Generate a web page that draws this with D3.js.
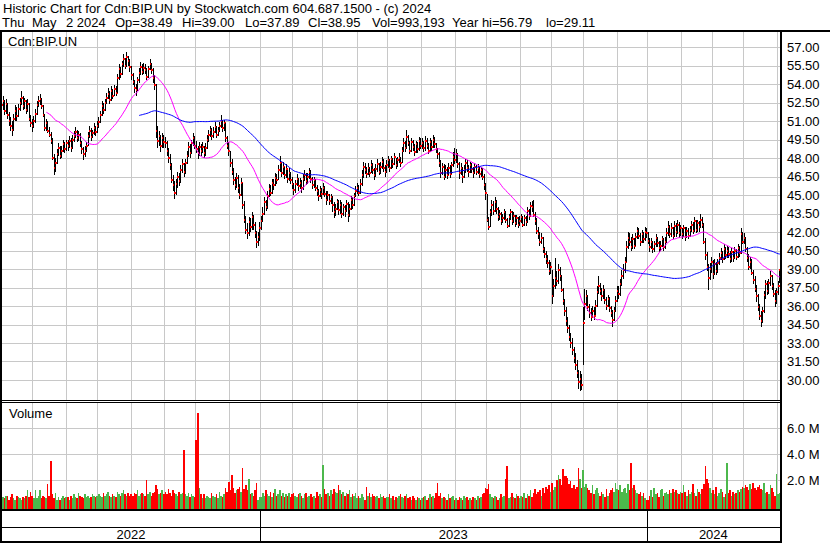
<!DOCTYPE html>
<html>
<head>
<meta charset="utf-8">
<script src="https://cdn.jsdelivr.net/npm/d3@7/dist/d3.min.js"></script>
<style>
  body { margin: 0; background: #fff; }
  text { font-family: Arial, "Liberation Sans", sans-serif; font-size: 13px; fill: #000; }
</style>
</head>
<body>
<script>
const width = 830, height = 543;

// daily closes, May 2 2022 .. May 2 2024 (one row per month)
const closes = [
  52.3, 52.6, 51.8, 52.4, 51.5, 51.0, 50.6, 50.3, 51.2, 51.8, 51.4, 52.0, 52.5, 52.9, 52.2, 52.6, 51.9, 52.4, 51.2, 50.8, 50.6,
  51.0, 51.6, 52.3, 52.6, 52.8, 52.2, 51.5, 50.4, 50.8, 50.2, 49.9, 49.4, 48.0, 47.2, 47.6, 48.3, 48.8, 48.2, 48.6, 49.1, 48.7, 49.2,
  49.0, 49.4, 48.8, 49.5, 49.8, 50.1, 49.6, 49.9, 49.2, 48.7, 48.3, 48.6, 49.0, 49.8, 50.2, 49.7, 50.0, 50.4, 50.1, 50.6,
  50.9, 51.5, 52.2, 51.9, 52.5, 52.9, 53.2, 52.7, 53.4, 53.0, 53.6, 53.3, 54.5, 55.2, 54.8, 55.6, 56.0, 55.5, 56.2, 55.9, 55.4, 54.7,
  54.2, 53.7, 53.5, 54.3, 54.9, 55.4, 55.0, 55.3, 55.1, 54.6, 55.2, 55.6, 55.1, 54.5, 53.9, 50.2, 49.4, 49.8, 49.0, 49.6, 49.3,
  49.2, 48.6, 48.0, 47.4, 46.2, 45.8, 45.2, 45.9, 46.5, 46.1, 47.0, 47.5, 46.9, 47.6, 48.2, 48.9, 48.4, 49.2, 49.6, 49.0,
  48.7, 48.4, 48.9, 48.6, 48.9, 48.4, 48.8, 49.5, 49.9, 50.3, 49.8, 50.1, 50.5, 49.9, 50.2, 50.6, 51.0, 50.4, 50.8, 49.6, 49.0, 48.6,
  47.6, 46.9, 46.2, 45.8, 46.4, 45.6, 45.0, 46.0, 44.2, 43.0, 42.2, 41.9, 42.8, 42.4, 43.2, 42.6, 41.9, 41.2, 41.6, 42.3,
  42.9, 43.5, 44.4, 44.0, 44.9, 45.5, 45.2, 46.0, 45.8, 46.4, 46.2, 47.0, 47.6, 46.8, 47.3, 46.6, 47.1, 46.3, 46.8, 46.2, 45.9,
  45.4, 45.9, 46.3, 45.7, 46.0, 45.6, 46.3, 46.6, 46.1, 46.5, 46.9, 46.3, 45.8, 46.2, 45.6, 45.3, 44.9, 45.4, 45.1,
  45.6, 45.1, 44.6, 45.0, 44.5, 44.8, 44.2, 43.6, 43.9, 44.4, 43.8, 44.2, 43.5, 44.0, 43.7, 44.3, 43.4, 43.9, 44.6, 44.2, 44.9, 45.3, 45.6,
  45.2, 45.9, 46.6, 47.3, 47.0, 46.7, 47.2, 46.8, 47.4, 47.0, 46.6, 47.1, 47.5, 46.9, 47.3, 47.7, 47.2, 46.9, 47.4,
  47.8, 47.2, 47.9, 47.5, 48.1, 47.4, 47.8, 48.0, 47.6, 48.6, 49.2, 48.8, 49.7, 49.2, 48.6, 49.3, 48.9, 48.5, 49.1, 48.7, 49.4, 49.0,
  49.2, 48.8, 49.4, 49.0, 48.6, 49.3, 48.9, 49.5, 49.1, 48.7, 48.3, 47.6, 46.8, 47.3, 46.5, 47.0, 46.6, 47.2, 46.7, 47.4, 48.1, 47.8,
  48.3, 47.5, 46.8, 47.2, 46.5, 47.0, 47.6, 47.2, 46.9, 47.4, 47.1, 46.8, 47.3, 46.9, 47.2, 46.7, 47.0, 46.5, 45.8, 45.2,
  43.0, 42.4, 43.6, 44.2, 43.7, 44.4, 43.9, 43.2, 43.5, 42.9, 43.1, 43.6, 43.0, 42.5, 43.2, 43.6, 42.9, 43.3, 42.7, 43.1, 42.6, 42.9,
  43.2, 42.6, 43.1, 42.8, 43.7, 43.3, 44.1, 44.0, 43.4, 42.9, 42.1, 41.8, 41.2, 41.5, 40.6, 40.2, 39.8, 39.5, 38.8, 39.2,
  36.8, 37.6, 38.3, 38.0, 38.9, 38.4, 37.3, 36.4, 35.6, 34.8, 34.2, 33.5, 33.0, 32.4, 31.8, 31.2, 30.6, 29.8, 30.1, 29.6, 34.6,
  36.2, 36.8, 35.9, 35.4, 35.1, 35.6, 35.2, 36.0, 37.1, 37.6, 37.2, 36.8, 37.3, 36.5, 36.0, 36.6, 35.8, 35.4, 34.9, 35.6, 36.4, 37.2,
  37.0, 37.8, 38.4, 38.9, 39.6, 40.8, 41.5, 41.2, 40.8, 41.4, 40.9, 41.6, 42.1, 41.7, 41.2, 41.8, 41.4, 42.0, 41.9,
  41.3, 40.8, 41.2, 40.6, 41.0, 41.5, 41.1, 40.7, 40.9, 41.4, 40.8, 41.2, 41.9, 42.4, 41.8, 42.3, 41.7, 42.5, 42.0, 42.6, 41.9, 42.3,
  41.8, 42.3, 41.6, 42.1, 41.7, 42.2, 42.6, 42.1, 42.9, 42.2, 42.7, 42.4, 43.0, 42.6, 41.2, 40.1, 39.2, 38.3, 39.0, 39.6,
  38.6, 39.4, 38.8, 39.5, 39.9, 40.3, 39.8, 40.6, 40.1, 40.5, 40.2, 39.8, 40.4, 39.9, 40.5, 40.0, 40.7, 40.3, 41.8, 41.2,
  41.5, 40.6, 39.9, 39.2, 39.6, 38.7, 38.1, 37.4, 36.8, 35.9, 35.2, 34.8, 35.6, 36.9, 37.8, 37.2, 37.9, 38.4, 37.6, 37.0, 36.4, 37.1,
  37.6, 38.95
];

const highs = [
  52.9, 53.0, 52.7, 52.8, 52.5, 51.7, 51.3, 51.0, 51.6, 52.3, 52.1, 52.4, 52.9, 53.4, 53.0, 52.9, 52.7, 52.8, 52.5, 51.5, 51.2,
  51.4, 52.0, 52.6, 53.0, 53.2, 52.9, 52.3, 51.6, 51.2, 51.0, 50.5, 50.1, 49.6, 48.3, 48.0, 48.7, 49.2, 49.0, 49.0, 49.5, 49.3, 49.5,
  49.5, 49.8, 49.6, 49.9, 50.2, 50.5, 50.3, 50.2, 50.0, 49.4, 48.9, 49.0, 49.3, 50.1, 50.6, 50.4, 50.3, 50.8, 50.6, 51.0,
  51.3, 51.8, 52.6, 52.5, 52.8, 53.3, 53.7, 53.4, 53.8, 53.6, 53.9, 53.8, 54.8, 55.6, 55.4, 55.9, 56.4, 56.1, 56.6, 56.3, 56.0, 55.5,
  54.9, 54.3, 54.0, 54.6, 55.3, 55.8, 55.6, 55.7, 55.6, 55.3, 55.5, 56.0, 55.7, 55.3, 54.7, 54.0, 50.6, 50.2, 49.9, 50.0, 49.9,
  49.7, 49.4, 48.8, 48.3, 47.6, 46.6, 46.1, 46.3, 46.9, 46.8, 47.4, 47.9, 47.6, 47.9, 48.6, 49.3, 49.1, 49.5, 50.0, 49.8,
  49.4, 49.0, 49.3, 49.1, 49.3, 49.0, 49.2, 49.9, 50.3, 50.6, 50.4, 50.5, 50.9, 50.6, 50.5, 50.9, 51.5, 51.1, 51.1, 50.8, 49.8, 49.3,
  48.6, 47.9, 47.2, 46.5, 46.8, 46.6, 45.9, 46.4, 46.0, 44.5, 43.3, 42.7, 43.2, 43.1, 43.6, 43.4, 42.8, 42.1, 42.0, 42.8,
  43.3, 44.0, 44.8, 44.6, 45.3, 45.9, 45.8, 46.3, 46.3, 46.8, 46.7, 47.4, 48.2, 47.6, 47.7, 47.3, 47.5, 47.0, 47.2, 46.9, 46.5,
  46.0, 46.2, 46.7, 46.4, 46.4, 46.2, 46.7, 47.0, 46.8, 46.8, 47.2, 47.0, 46.5, 46.5, 46.3, 45.8, 45.5, 45.7, 45.6,
  46.0, 45.7, 45.3, 45.3, 45.1, 45.1, 44.9, 44.4, 44.3, 44.7, 44.6, 44.6, 44.4, 44.3, 44.2, 44.6, 44.4, 44.3, 44.9, 44.8, 45.2, 45.7, 46.0,
  45.8, 46.3, 47.0, 47.7, 47.6, 47.3, 47.6, 47.3, 47.8, 47.6, 47.2, 47.5, 47.9, 47.6, 47.7, 48.1, 47.9, 47.4, 47.8,
  48.2, 47.9, 48.2, 48.0, 48.4, 48.0, 48.1, 48.4, 48.1, 48.9, 49.6, 49.4, 50.3, 49.9, 49.4, 49.6, 49.5, 49.1, 49.4, 49.3, 49.7, 49.6,
  49.6, 49.4, 49.8, 49.6, 49.2, 49.6, 49.5, 49.9, 49.7, 49.2, 48.8, 48.5, 47.8, 47.6, 47.5, 47.4, 47.3, 47.6, 47.4, 47.7, 48.5, 48.8,
  48.7, 48.4, 47.7, 47.6, 47.3, 47.4, 47.9, 47.8, 47.4, 47.7, 47.6, 47.3, 47.6, 47.4, 47.5, 47.3, 47.3, 47.2, 46.7, 46.0,
  45.1, 43.2, 43.9, 44.6, 44.5, 44.8, 44.6, 44.0, 43.8, 43.6, 43.5, 43.9, 43.7, 43.1, 43.5, 43.9, 43.7, 43.6, 43.4, 43.4, 43.2, 43.3,
  43.5, 43.3, 43.4, 43.3, 44.0, 43.9, 44.4, 44.5, 44.6, 43.6, 43.1, 42.4, 42.0, 41.9, 41.6, 40.8, 40.5, 40.1, 39.7, 39.6,
  38.9, 38.2, 39.9, 38.8, 39.4, 39.2, 38.5, 37.5, 36.6, 35.9, 35.1, 34.5, 33.8, 33.4, 32.7, 32.2, 31.6, 30.8, 30.7, 30.5, 35.9,
  37.4, 37.3, 36.9, 36.2, 35.8, 36.0, 35.9, 36.5, 37.6, 38.4, 37.9, 37.5, 37.7, 37.4, 36.7, 36.9, 36.7, 36.0, 35.7, 35.9, 36.8, 37.6,
  37.6, 38.2, 38.9, 39.4, 40.0, 41.3, 42.0, 41.9, 41.6, 41.8, 41.5, 41.9, 42.4, 42.3, 41.9, 42.2, 42.0, 42.4, 42.3,
  42.0, 41.5, 41.5, 41.3, 41.3, 41.8, 41.6, 41.3, 41.3, 41.7, 41.5, 41.6, 42.3, 42.9, 42.6, 42.7, 42.4, 42.9, 42.7, 43.0, 42.8, 42.6,
  42.3, 42.6, 42.4, 42.4, 42.3, 42.5, 42.9, 42.8, 43.2, 43.0, 43.0, 42.9, 43.5, 43.2, 42.7, 41.5, 40.4, 39.4, 39.5, 40.0,
  39.7, 39.8, 39.6, 39.8, 40.3, 40.7, 40.5, 41.0, 40.8, 40.9, 40.8, 40.5, 40.7, 40.5, 40.8, 40.6, 41.0, 40.9, 42.3, 42.0,
  41.9, 41.6, 40.8, 40.2, 40.0, 39.8, 38.9, 38.4, 37.7, 37.0, 36.2, 35.6, 35.9, 37.2, 38.1, 38.0, 38.2, 38.8, 38.5, 37.9, 37.3, 37.5,
  38.0, 39.00
];

const lows = [
  51.6, 51.9, 51.5, 51.6, 51.2, 50.6, 50.2, 49.8, 50.2, 51.0, 51.0, 51.3, 51.8, 52.3, 51.9, 52.0, 51.6, 51.7, 51.0, 50.5, 50.1,
  50.4, 50.8, 51.5, 52.1, 52.3, 52.0, 51.3, 50.2, 50.2, 50.0, 49.7, 49.1, 47.8, 46.6, 46.9, 47.5, 48.2, 47.9, 48.0, 48.5, 48.4, 48.6,
  48.6, 48.8, 48.5, 48.7, 49.3, 49.6, 49.3, 49.4, 48.9, 48.3, 47.8, 48.1, 48.5, 49.0, 49.6, 49.4, 49.6, 49.9, 49.8, 50.0,
  50.4, 50.8, 51.4, 51.6, 51.8, 52.4, 52.8, 52.4, 52.6, 52.8, 53.0, 53.0, 53.3, 54.3, 54.5, 54.7, 55.4, 55.2, 55.4, 55.5, 55.0, 54.3,
  53.9, 53.3, 53.0, 53.4, 54.1, 54.7, 54.7, 54.8, 54.8, 54.3, 54.5, 55.1, 54.8, 54.1, 53.5, 49.6, 48.8, 49.0, 48.5, 48.8, 48.8,
  48.8, 48.2, 47.6, 47.0, 46.0, 45.3, 44.7, 45.0, 45.6, 45.7, 46.0, 46.8, 46.5, 46.7, 47.5, 48.1, 48.0, 48.3, 49.0, 48.7,
  48.4, 47.9, 48.2, 48.2, 48.4, 48.0, 48.2, 48.7, 49.3, 49.7, 49.5, 49.6, 50.0, 49.6, 49.8, 50.1, 50.4, 50.1, 50.2, 49.3, 48.7, 48.2,
  47.3, 46.6, 45.8, 45.4, 45.6, 45.2, 44.7, 44.9, 43.9, 42.7, 41.8, 41.4, 41.7, 42.0, 42.2, 42.2, 41.5, 40.7, 40.9, 41.3,
  42.2, 42.8, 43.4, 43.7, 43.9, 44.8, 44.9, 45.1, 45.4, 45.7, 45.9, 46.2, 46.9, 46.5, 46.6, 46.3, 46.4, 46.0, 46.1, 45.9, 45.5,
  45.0, 45.2, 45.7, 45.3, 45.5, 45.2, 45.4, 46.1, 45.8, 45.9, 46.3, 46.0, 45.5, 45.6, 45.3, 44.9, 44.5, 44.8, 44.7,
  45.0, 44.8, 44.2, 44.5, 44.2, 44.3, 43.6, 43.1, 43.3, 43.8, 43.4, 43.5, 43.1, 43.3, 43.2, 43.6, 42.8, 43.2, 43.8, 43.9, 44.1, 44.8, 45.1,
  44.9, 45.1, 45.7, 46.4, 46.7, 46.4, 46.6, 46.5, 46.8, 46.7, 46.2, 46.5, 46.9, 46.6, 46.7, 47.1, 46.9, 46.5, 46.8,
  47.2, 46.9, 47.1, 47.2, 47.4, 47.1, 47.3, 47.6, 47.3, 47.6, 48.5, 48.5, 48.7, 49.0, 48.3, 48.5, 48.6, 48.2, 48.4, 48.4, 48.6, 48.7,
  48.7, 48.5, 48.6, 48.7, 48.3, 48.5, 48.6, 48.8, 48.8, 48.4, 47.9, 47.3, 46.4, 46.6, 46.2, 46.4, 46.3, 46.6, 46.4, 46.7, 47.3, 47.5,
  47.6, 47.2, 46.3, 46.6, 46.0, 46.4, 46.8, 46.9, 46.5, 46.8, 46.8, 46.4, 46.7, 46.6, 46.7, 46.4, 46.5, 46.2, 45.4, 44.6,
  42.8, 42.2, 42.4, 43.3, 43.4, 43.6, 43.5, 42.9, 43.0, 42.6, 42.7, 43.0, 42.7, 42.3, 42.4, 43.0, 42.6, 42.7, 42.4, 42.6, 42.3, 42.5,
  42.7, 42.4, 42.5, 42.5, 42.7, 43.0, 43.3, 43.6, 43.2, 42.6, 41.8, 41.4, 40.9, 41.0, 40.3, 39.9, 39.4, 39.1, 38.5, 38.6,
  36.2, 36.7, 37.4, 37.6, 37.8, 38.0, 37.1, 36.1, 35.2, 34.4, 33.8, 33.2, 32.6, 32.0, 31.4, 30.8, 30.2, 29.3, 29.11, 29.2, 31.2,
  34.9, 36.0, 35.6, 35.0, 34.8, 35.1, 34.9, 35.3, 35.9, 37.0, 36.9, 36.4, 36.6, 36.2, 35.7, 35.9, 35.5, 35.1, 34.3, 34.8, 35.5, 36.3,
  36.6, 36.8, 37.6, 38.2, 38.7, 39.6, 40.6, 40.9, 40.5, 40.6, 40.6, 40.9, 41.4, 41.4, 40.9, 41.1, 41.1, 41.3, 41.5,
  41.0, 40.4, 40.6, 40.3, 40.4, 40.8, 40.8, 40.4, 40.5, 40.8, 40.5, 40.6, 41.1, 41.7, 41.5, 41.6, 41.4, 41.6, 41.6, 41.8, 41.5, 41.7,
  41.4, 41.6, 41.3, 41.5, 41.4, 41.6, 42.0, 41.8, 42.0, 41.9, 42.0, 42.0, 42.3, 42.3, 41.0, 39.7, 38.8, 37.3, 38.1, 38.7,
  38.2, 38.5, 38.5, 38.7, 39.3, 39.7, 39.5, 39.7, 39.8, 39.9, 39.9, 39.5, 39.6, 39.6, 39.8, 39.7, 39.9, 40.0, 40.2, 41.0,
  41.0, 40.4, 39.6, 38.9, 39.0, 38.5, 37.8, 37.1, 36.3, 35.6, 34.9, 34.3, 34.6, 35.4, 36.6, 36.9, 37.0, 37.6, 37.3, 36.7, 35.9, 36.2,
  36.9, 37.89
];

// daily volume, millions of shares
const volumes = [
  0.9, 0.7, 0.6, 0.8, 0.8, 0.5, 0.7, 0.9, 0.6, 0.5, 0.8, 0.7, 0.6, 0.5, 0.7, 0.6, 0.8, 1.2, 0.7, 1.1, 0.8,
  0.6, 1.2, 0.6, 0.8, 1.2, 0.6, 0.8, 0.7, 0.6, 1.7, 0.8, 3.5, 0.9, 0.6, 1.0, 0.5, 0.7, 0.5, 0.6, 0.8, 0.6, 0.7,
  0.7, 0.5, 0.8, 0.6, 0.9, 0.7, 0.6, 1.0, 0.8, 0.7, 0.6, 0.9, 0.7, 0.8, 0.6, 0.7, 0.9, 0.8, 0.7, 0.8,
  0.9, 0.8, 0.7, 1.0, 0.8, 0.9, 1.1, 0.8, 0.7, 0.9, 0.8, 0.7, 1.1, 0.9, 0.8, 1.0, 1.2, 0.9, 0.8, 1.0, 0.8, 0.9,
  0.8, 1.0, 0.9, 1.2, 0.8, 0.9, 1.0, 0.9, 0.8, 2.0, 0.9, 1.1, 0.8, 1.0, 1.1, 1.6, 1.3, 0.9, 1.0, 1.2, 0.9,
  1.1, 0.9, 1.3, 1.0, 0.8, 1.2, 1.0, 0.9, 0.8, 1.1, 0.9, 1.0, 4.3, 0.9, 0.8, 1.0, 0.7, 0.9, 0.8, 0.7,
  5.1, 7.2, 1.4, 0.9, 0.6, 0.9, 0.6, 0.8, 0.7, 0.6, 1.0, 0.8, 0.7, 0.9, 0.6, 1.1, 0.8, 0.7, 0.9, 1.4, 1.1, 1.85,
  1.2, 2.4, 1.4, 1.0, 1.2, 1.3, 1.5, 1.1, 2.9, 1.35, 1.6, 1.2, 2.1, 0.9, 1.0, 0.8, 1.2, 1.75, 0.5, 0.7,
  0.7, 1.0, 0.8, 1.2, 0.9, 0.8, 1.1, 0.7, 1.0, 1.3, 0.8, 0.9, 1.2, 0.8, 1.0, 0.7, 0.9, 0.8, 1.0, 0.7, 0.9,
  1.0, 0.8, 0.7, 0.9, 1.0, 0.8, 0.6, 0.9, 1.0, 0.7, 0.8, 0.9, 0.7, 0.8, 0.6, 1.1, 0.8, 0.9, 0.7,
  3.2, 1.3, 0.9, 1.0, 0.8, 1.2, 0.9, 1.3, 1.1, 1.0, 1.6, 1.2, 0.9, 1.1, 0.8, 1.0, 0.9, 1.2, 0.7, 0.9, 0.8, 1.0, 0.6,
  0.8, 0.6, 0.9, 0.7, 0.5, 1.5, 0.8, 1.0, 0.7, 0.9, 0.8, 0.7, 0.8, 0.6, 0.9, 0.7, 0.8, 0.6, 0.7,
  0.7, 0.9, 0.6, 0.8, 0.5, 0.7, 0.6, 0.8, 0.9, 0.7, 0.6, 0.8, 0.9, 0.6, 0.7, 0.5, 0.8, 0.6, 0.5, 0.7, 0.6, 0.5,
  0.6, 0.7, 0.8, 0.5, 0.6, 0.9, 0.7, 0.8, 0.6, 1.0, 1.8, 0.8, 1.0, 0.6, 0.7, 0.6, 0.5, 0.9, 0.6, 0.7, 0.8, 0.5,
  0.6, 0.5, 0.7, 0.6, 0.5, 0.8, 0.6, 0.7, 0.5, 0.6, 0.5, 0.7, 0.6, 0.5, 0.8, 0.6, 0.7, 0.9, 1.0, 1.4,
  1.3, 1.7, 0.9, 0.7, 0.6, 0.8, 0.7, 0.5, 0.6, 0.9, 0.7, 0.8, 2.1, 3.1, 0.6, 0.7, 1.0, 0.7, 0.6, 0.9, 0.8, 0.6,
  0.8, 0.7, 1.0, 0.6, 0.9, 0.8, 1.2, 0.7, 1.0, 1.3, 0.9, 1.1, 1.2, 0.8, 1.4, 1.0, 1.5, 1.3, 1.6, 1.1,
  1.8, 1.2, 1.5, 2.0, 2.4, 2.1, 1.6, 2.85, 2.3, 2.3, 2.2, 1.7, 1.9, 1.4, 1.6, 1.3, 1.5, 2.9, 2.1, 1.4, 2.75,
  1.5, 1.7, 1.4, 1.2, 1.0, 1.6, 0.9, 1.2, 1.4, 1.0, 0.8, 1.1, 0.9, 0.7, 1.3, 0.8, 1.0, 1.2, 1.4, 1.1, 1.8, 1.3,
  1.2, 1.6, 1.1, 1.3, 1.4, 1.0, 1.7, 1.2, 3.3, 1.4, 1.6, 1.2, 1.0, 0.9, 1.1, 0.8, 1.0, 0.6, 0.5,
  0.5, 0.8, 1.2, 0.7, 1.4, 0.9, 1.0, 0.7, 1.2, 1.3, 0.8, 1.0, 1.1, 0.9, 1.2, 1.0, 1.3, 1.1, 1.2, 1.0, 0.9, 1.1,
  1.0, 1.6, 1.1, 0.8, 1.2, 0.9, 1.1, 1.7, 1.0, 0.8, 1.3, 1.1, 0.9, 1.3, 1.7, 3.1, 2.1, 1.8, 1.4, 1.0,
  1.2, 0.9, 1.5, 0.8, 1.0, 1.3, 1.1, 0.7, 0.9, 3.3, 1.0, 1.2, 0.8, 1.1, 0.9, 1.0, 1.2, 1.1, 1.3, 1.5,
  1.4, 1.6, 1.5, 1.2, 1.7, 1.3, 1.75, 1.4, 1.2, 1.5, 1.6, 1.3, 1.2, 1.75, 1.0, 1.1, 0.9, 1.6, 1.4, 1.1, 0.8, 2.5,
  0.9, 0.993193
];

// TSX closed days in the period
const holidays = [
  '2022-05-23', '2022-07-01', '2022-08-01', '2022-09-05', '2022-10-10', '2022-12-26', '2022-12-27',
  '2023-01-02', '2023-02-20', '2023-04-07', '2023-05-22', '2023-07-03', '2023-08-07', '2023-09-04',
  '2023-10-09', '2023-12-25', '2023-12-26', '2024-01-01', '2024-02-19', '2024-03-29'
];

const priceTicks = d3.range(30, 57.01, 1.5);
const volumeTicks = [2, 4, 6];
const maShort = 30, maLong = 90;

const headerLine1 = 'Historic Chart for Cdn:BIP.UN by Stockwatch.com 604.687.1500 - (c) 2024';
// second header line, field by field with its left position
const headerFields = [
    ['Thu', 2], ['May', 32], ['2 2024', 66], ['Op=38.49', 115], ['Hi=39.00', 182], ['Lo=37.89', 245],
    ['Cl=38.95', 308], ['Vol=993,193', 372], ['Year hi=56.79', 452], ['lo=29.11', 546]
];

// trading days
const fmt = d3.timeFormat('%Y-%m-%d');
const closed = new Set(holidays);
const days = d3.timeDay.range(new Date(2022, 4, 2), new Date(2024, 4, 3))
    .filter(d => d.getDay() !== 0 && d.getDay() !== 6 && !closed.has(fmt(d)));

const n = closes.length;
const monthStarts = [], yearStarts = [];
days.forEach((d, i) => {
    if (i === 0 || i >= n) return;
    const p = days[i - 1];
    if (d.getMonth() !== p.getMonth()) monthStarts.push(i);
    if (d.getFullYear() !== p.getFullYear()) yearStarts.push(i);
});

const left = 2, right = 780;
const priceTop = 32, priceBottom = 400;
const volTop = 403, volBottom = 509;

const x = d3.scaleLinear().domain([0, n - 1]).range([1, 779.3]);
const y = d3.scaleLinear().domain([30, 57]).range([380, 47]);
const yVol = d3.scaleLinear().domain([0, 6]).range([506, 428.4]);

const svg = d3.select('body').append('svg')
    .attr('width', width)
    .attr('height', height)
    .attr('shape-rendering', 'crispEdges');

svg.append('rect').attr('width', width).attr('height', height).attr('fill', '#fff');

// header
svg.append('text').attr('x', 3).attr('y', 13).text(headerLine1);
svg.append('g').selectAll('text').data(headerFields).join('text')
    .attr('x', d => d[1]).attr('y', 27)
    .text(d => d[0]);

// grid
const gridX = i => Math.round(x(i) - 1.1) + 0.5;
const grid = svg.append('g').attr('stroke', '#c8c8c8').attr('stroke-width', 1);

grid.selectAll('line.hp').data(priceTicks).join('line')
    .attr('x1', left).attr('x2', right)
    .attr('y1', d => Math.round(y(d)) + 0.5).attr('y2', d => Math.round(y(d)) + 0.5);

grid.selectAll('line.hv').data(volumeTicks).join('line')
    .attr('x1', left).attr('x2', right)
    .attr('y1', d => Math.round(yVol(d)) + 0.5).attr('y2', d => Math.round(yVol(d)) + 0.5);

grid.selectAll('line.vp').data(monthStarts).join('line')
    .attr('x1', gridX).attr('x2', gridX)
    .attr('y1', priceTop).attr('y2', priceBottom);

grid.selectAll('line.vv').data(monthStarts).join('line')
    .attr('x1', gridX).attr('x2', gridX)
    .attr('y1', volTop).attr('y2', volBottom);

svg.append('text').attr('x', 8).attr('y', 46).text('Cdn:BIP.UN');
svg.append('text').attr('x', 9).attr('y', 418).text('Volume');

// price bars: high-low line with a red close mark
const bars = svg.append('g');
closes.forEach((c, i) => {
    const cx = Math.round(x(i));
    bars.append('rect')
        .attr('x', cx).attr('width', 1)
        .attr('y', Math.round(y(highs[i])))
        .attr('height', Math.max(1, Math.round(y(lows[i])) - Math.round(y(highs[i]))))
        .attr('fill', '#000');
    bars.append('rect')
        .attr('x', cx).attr('width', 2)
        .attr('y', Math.round(y(c)) - 1).attr('height', 2)
        .attr('fill', '#ff0000');
});

// moving averages
function movingAvg(vals, len) {
    return vals.map((v, i) => i < len - 1 ? null : d3.mean(vals.slice(i - len + 1, i + 1)));
}
const maLine = d3.line()
    .defined(d => d[1] != null)
    .x(d => x(d[0]) + 0.5)
    .y(d => y(d[1]));

[[maShort, '#ff00ff'], [maLong, '#0000ff']].forEach(([len, color]) => {
    const pts = movingAvg(closes, len).map((v, i) => [i, v]);
    svg.append('path')
        .attr('d', maLine(pts))
        .attr('fill', 'none')
        .attr('stroke', color)
        .attr('stroke-width', 1)
        .attr('shape-rendering', 'auto');
});

// volume bars
const volColor = i => i === 0 || closes[i] === closes[i - 1] ? '#a0a0a0'
    : closes[i] > closes[i - 1] ? '#4cb84c' : '#ff0000';
svg.append('g').selectAll('rect').data(volumes).join('rect')
    .attr('x', (d, i) => Math.round(x(i) - 0.5))
    .attr('width', (d, i) => Math.max(1, Math.round(x(i + 1) - 0.5) - Math.round(x(i) - 0.5)))
    .attr('y', d => Math.round(yVol(d)))
    .attr('height', d => volBottom - Math.round(yVol(d)))
    .attr('fill', (d, i) => volColor(i));

// frame
const frame = svg.append('g').attr('fill', '#000');
frame.append('rect').attr('x', 0).attr('y', 30).attr('width', width).attr('height', 2);
frame.append('rect').attr('x', 0).attr('y', 30).attr('width', 2).attr('height', height - 30);
frame.append('rect').attr('x', right).attr('y', 30).attr('width', 2).attr('height', height - 30);
frame.append('rect').attr('x', 0).attr('y', 400).attr('width', right).attr('height', 1);
frame.append('rect').attr('x', 0).attr('y', 402).attr('width', right).attr('height', 1);
frame.append('rect').attr('x', 0).attr('y', volBottom).attr('width', right).attr('height', 2);
frame.append('rect').attr('x', 0).attr('y', 527).attr('width', right).attr('height', 1);
frame.append('rect').attr('x', 0).attr('y', 541).attr('width', right).attr('height', 2);
yearStarts.forEach(i => {
    frame.append('rect').attr('x', Math.round(x(i) - 1.1)).attr('y', volBottom)
        .attr('width', 1).attr('height', 541 - volBottom);
});

// right axis labels
svg.append('g').selectAll('text').data(priceTicks).join('text')
    .attr('x', 787).attr('y', d => y(d) + 4.5)
    .text(d => d.toFixed(2));
svg.append('g').selectAll('text').data(volumeTicks).join('text')
    .attr('x', 787).attr('y', d => yVol(d) + 4.5)
    .text(d => d.toFixed(1) + ' M');

// year labels
const bounds = [left, ...yearStarts.map(i => x(i) - 1.1), right];
const years = [2022, 2023, 2024];
svg.append('g').selectAll('text').data(years).join('text')
    .attr('x', (d, k) => (bounds[k] + bounds[k + 1]) / 2)
    .attr('y', 539)
    .attr('text-anchor', 'middle')
    .text(d => d);
</script>
</body>
</html>
